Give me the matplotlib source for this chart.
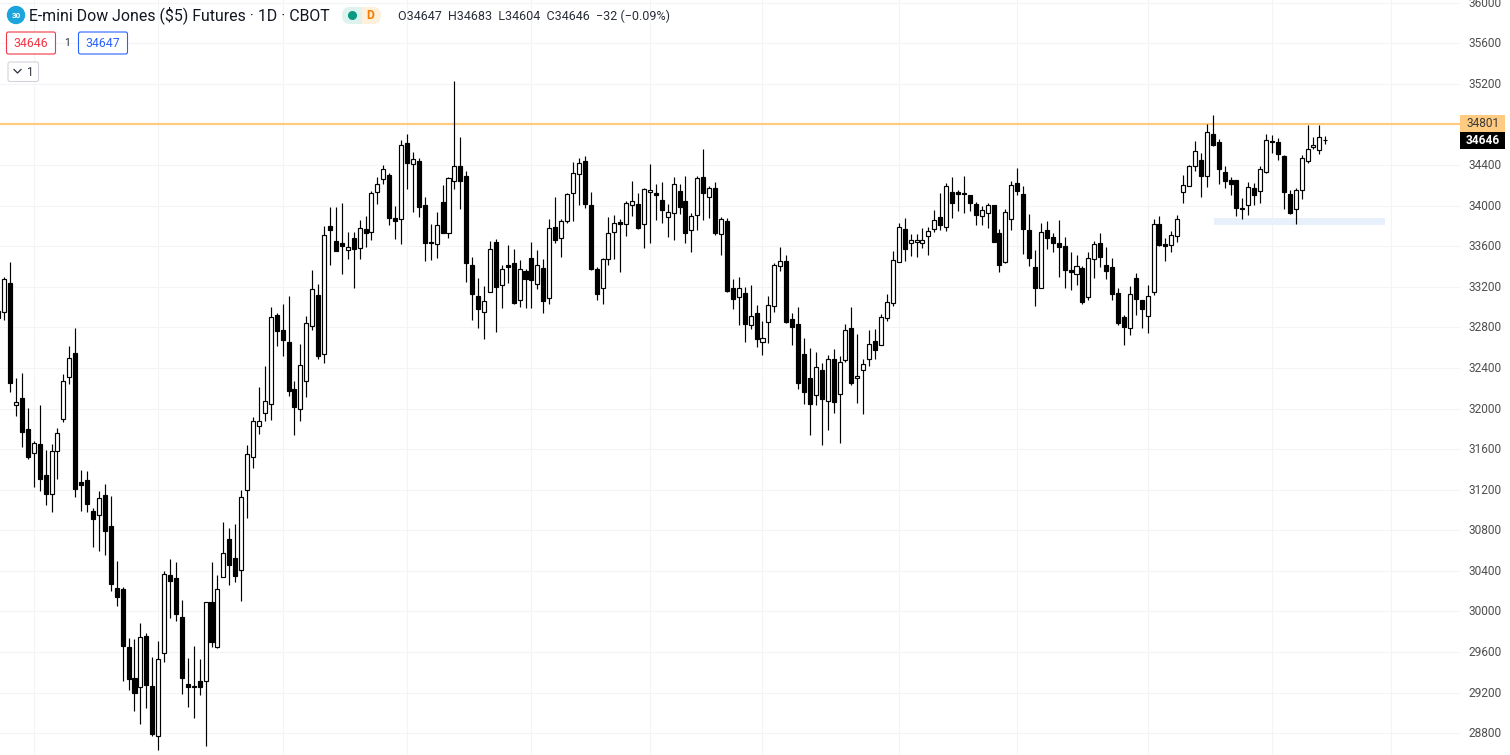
import numpy as np
import matplotlib
matplotlib.use('Agg')
import matplotlib.pyplot as plt
from matplotlib.patches import FancyBboxPatch, Circle, Rectangle
from matplotlib.transforms import ScaledTranslation

plt.rcParams['font.family'] = ['Roboto', 'DejaVu Sans']

opens = [32961,
    32954,33234,32038,32101,31795,31559,31647,31342,31155,31578,31894,32314,32544,31273,31293,
    30987,30948,31145,30840,30229,30219,29647,29342,29253,29756,29263,28771,29588,30357,30327,
    29943,29283,29267,29312,29312,30091,29654,30337,30711,30524,30406,31194,
    31522,31824,31952,32044,32918,32770,32652,32188,31991,32267,32809,33115,32533,33794,33647,33627,
    33564,33676,33578,33765,33735,34129,34257,34297,33873,33863,34612,34405,34435,34001,33637,33617,
    34031,33725,34238,34385,34287,33410,33105,32947,
    33144,33637,33213,33410,33430,33065,33351,33479,33230,33381,33085,33785,33676,33844,34120,34307,
    34435,34001,33371,33184,33469,33735,33837,33814,34001,34011,33814,34129,34120,34051,33883,33923,
    34139,34041,33755,33903,34277,34080,34169,33716,33844,
    33184,33095,33134,32819,32937,32652,32849,33006,33400,33450,32878,32829,32533,32297,32130,32376,
    32070,32484,32139,32474,32790,32297,32376,32484,32661,32622,32888,33036,33440,33765,33627,33637,
    33627,33696,33765,33883,33785,34129,34129,34120,
    34100,34011,33893,33923,34001,33726,33440,33863,34218,34110,33755,33391,33190,33755,33686,33627,
    33597,33361,33322,33381,33095,33469,33627,33410,33391,33134,32898,32790,33282,33065,32908,33144,
    33814,33617,33607,33703,34129,
    34188,34385,34445,34287,34701,34622,34326,34248,34248,33975,34001,34169,34139,34326,34632,34622,
    34484,34110,33962,34149,34435,34573,34543,34647]

closes = [32895,
    33273,32255,32068,31772,31526,31664,31309,31161,31578,31762,32268,32495,31211,31250,31063,
    30915,31115,30797,30275,30147,29664,29339,29201,29746,29280,28797,29536,30367,30304,29979,
    29349,29260,29260,29260,30091,29703,30225,30574,30462,30353,31125,31549,
    31873,31873,32070,32898,32766,32678,32175,32018,32425,32839,33174,32520,33706,33761,33555,33604,
    33587,33574,33775,33732,34119,34208,34356,33873,33850,34592,34422,34454,33981,33627,33627,33804,
    33732,34267,34385,34238,33430,33124,32977,33055,
    33568,33200,33371,33397,33042,33371,33279,33269,33410,33062,33775,33663,33844,34110,34317,34415,
    34018,33377,33131,33469,33725,33824,33821,34021,34041,33781,34159,34149,34100,33959,33932,34208,
    33988,33732,33893,34267,34120,34169,33732,33863,33161,
    33075,33184,32829,32908,32681,32691,33016,33410,33450,32855,32806,32254,32166,32047,32405,32090,
    32484,32067,32455,32770,32254,32317,32435,32632,32579,32898,33046,33459,33785,33574,33657,33657,
    33657,33745,33854,33811,34189,34028,34116,34116,
    34028,33903,33952,34001,33643,33417,33932,34198,34146,33772,33486,33190,33735,33683,33634,33594,
    33368,33348,33400,33052,33479,33617,33496,33358,33131,32845,32806,33125,33082,32977,33105,33814,
    33614,33604,33706,33863,34198,
    34385,34533,34287,34720,34599,34356,34238,34208,33972,33968,34179,34100,34356,34642,34622,34504,
    34129,33926,34149,34464,34553,34592,34671,34646]

highs = [33000,
    33293,33440,32298,32347,32002,31677,32035,31592,31647,31805,32337,32613,32790,31395,31381,
    31017,31184,31253,31135,30495,30242,29739,29730,29884,29789,29552,29707,30396,30514,30485,
    30111,29539,29657,29529,30091,30485,30357,30879,30820,30859,31194,31638,
    31919,32208,32418,32996,32937,33026,33108,32267,32632,32908,33361,33223,33794,33981,33981,34021,
    33735,33735,33853,33896,34139,34277,34395,34316,33991,34642,34701,34523,34464,34080,33814,33932,
    34198,34277,35226,34671,34336,33489,33282,33203,
    33647,33666,33410,33607,33568,33460,33371,33637,33558,33469,33863,34080,33863,34120,34425,34464,
    34484,34129,33390,33479,33883,33903,33863,34041,34238,34120,34169,34405,34208,34228,34011,34277,
    34208,34287,33923,34287,34553,34189,34228,33883,33873,
    33272,33292,33193,33213,33016,32859,33105,33430,33588,33509,32937,32996,32691,32593,32553,32445,
    32524,32583,32514,32829,32996,32730,32484,32770,32780,32927,33125,33548,33824,33873,33716,33716,
    33775,33785,33952,34120,34218,34277,34149,34287,
    34100,34031,33992,34021,34001,33765,33962,34238,34366,34189,33913,33558,33824,33844,33726,33854,
    33686,33538,33509,33400,33538,33647,33726,33588,33479,33184,32918,33203,33331,33069,33213,33863,
    33893,33676,33745,33903,34297,
    34395,34632,34514,34799,34888,34651,34385,34277,34248,34070,34228,34218,34385,34701,34691,34661,
    34494,34149,34169,34494,34793,34671,34793,34683]

lows = [32880,
    32872,32166,31930,31624,31503,31230,31191,31053,30984,31309,31871,32245,31132,30994,30984,
    30639,30600,30560,30206,30058,29319,29230,29024,28895,29053,28777,28639,29506,29940,29910,
    29191,29063,28955,29181,28679,29654,29644,30337,30265,30294,30107,30925,
    31413,31752,31880,31890,32619,32520,32126,31742,31880,32116,32776,32491,32451,33417,33555,33328,
    33476,33190,33476,33594,33663,34018,34215,33811,33673,33624,34165,33939,33890,33456,33466,33486,
    33732,33683,34165,33968,33246,32875,32796,32688,
    33144,32757,32993,33239,33033,33003,32993,32993,33180,32944,33033,33634,33496,33831,33850,34008,
    33978,33368,33072,33033,33410,33476,33348,33702,33900,33771,33584,33634,33860,33831,33693,33663,
    33919,33634,33545,33762,33860,33880,33712,33515,33151,
    32983,32826,32658,32786,32609,32530,32648,32954,33358,32845,32629,32195,32047,31742,32038,31643,
    31791,31959,31663,32455,32235,32057,31949,32422,32491,32622,32865,33013,33440,33456,33505,33496,
    33584,33515,33735,33762,33752,33880,33942,33929,
    33949,33811,33811,33781,33643,33348,33430,33762,34106,33525,33407,33013,33184,33574,33545,33299,
    33190,33171,33220,33033,33072,33289,33397,33279,33072,32819,32629,32727,32924,32796,32747,33121,
    33604,33456,33545,33643,34028,
    34188,34336,34087,34179,34589,34208,34169,34100,33893,33863,33903,34001,34021,34317,34514,34445,
    33968,33916,33814,34067,34415,34553,34504,34604]

price_ticks = list(range(28800, 36001, 400))
date_grid = [5, 26, 47, 68, 89, 109, 128, 151, 171, 193, 214, 234]
resistance = 34801
last_close = 34646
support_zone = (204.2, 233.1, 33807, 33873)

W, H = 1510, 755
fig = plt.figure(figsize=(W / 100, H / 100), dpi=100)
ax = fig.add_axes([0, 0, 1460 / W, 1])

x = np.arange(len(opens)) - 1
o, c, hi, lo = map(np.array, (opens, closes, highs, lows))
up = c > o
bottoms = np.minimum(o, c)
tops = np.maximum(o, c)

# grid
ax.set_xticks(date_grid)
ax.set_yticks(price_ticks)
ax.grid(True, color='#f3f4f6', linewidth=0.75)
ax.set_axisbelow(True)

# zone, level
ax.add_patch(Rectangle((support_zone[0], support_zone[2]), support_zone[1] - support_zone[0],
                       support_zone[3] - support_zone[2], color='#e8f0fc', lw=0, zorder=1))
ax.axhline(resistance, color='#ffcb80', lw=1.6, zorder=2)

# candles
ax.vlines(x, lo, hi, color='black', lw=0.85, zorder=3)
ax.bar(x, tops - bottoms, 0.68, bottom=bottoms, color=np.where(up, 'white', 'black'),
       edgecolor='black', lw=0.85, zorder=4)

ax.set_xlim(-0.70, 245.73)
ax.set_ylim(28586, 36025)
for s in ax.spines.values():
    s.set_visible(False)
ax.tick_params(axis='x', length=0, labelbottom=False)
ax.tick_params(axis='y', length=0, pad=5.8, labelleft=False, labelright=True,
               labelsize=8.6, labelcolor='#4f4f4f')
for lab in ax.get_yticklabels():
    lab.set_transform(lab.get_transform() + ScaledTranslation(0, 1 / 100, fig.dpi_scale_trans))

# overlay in screen pixels for the header and price tags
ov = fig.add_axes([0, 0, 1, 1])
ov.set_xlim(0, W)
ov.set_ylim(H, 0)
ov.axis('off')
ov.patch.set_alpha(0)

def box(x0, y0, x1, y1, fc, ec='none', lw=0.8, r=2):
    ov.add_patch(FancyBboxPatch((x0 + r, y0 + r), x1 - x0 - 2 * r, y1 - y0 - 2 * r,
                                boxstyle='round,pad=%d,rounding_size=%d' % (r, r),
                                fc=fc, ec=ec, lw=lw))

ov.add_patch(Circle((16, 15), 8.5, color='#1ca4dc'))
ov.text(16, 15.5, '30', color='white', fontsize=5.8, fontweight='bold', ha='center', va='center')
ov.text(29, 15.5, 'E-mini Dow Jones ($5) Futures · 1D · CBOT', color='#131722', fontsize=11.4,
        ha='left', va='center')

ov.add_patch(FancyBboxPatch((350, 7), 23, 17, boxstyle='round,pad=0,rounding_size=1', fc='#fff0dc', ec='none'))
box(342, 7, 362, 24, '#dff3ee', r=8)
ov.add_patch(Rectangle((362, 7), 7, 17, fc='#fff0dc', lw=0))
box(361, 7, 381, 24, '#fff0dc', r=8)
ov.add_patch(Rectangle((354, 7), 8, 17, fc='#dff3ee', lw=0))
ov.add_patch(Circle((352.5, 15.5), 3.8, color='#089981'))
ov.text(370.5, 15.5, 'D', color='#f57c00', fontsize=8.8, fontweight='bold', ha='center', va='center')

ov.text(398, 16, 'O34647  H34683  L34604  C34646  −32 (−0.09%)', color='#2a2e39', fontsize=9.03,
        ha='left', va='center')

box(6.5, 32, 55.5, 54, 'white', ec='#f23645')
ov.text(31, 43.5, '34646', color='#f23645', fontsize=8.8, ha='center', va='center')
ov.text(67, 43.5, '1', color='#2a2e39', fontsize=7.6, ha='center', va='center')
box(78.5, 32, 127.5, 54, 'white', ec='#2962ff')
ov.text(103, 43.5, '34647', color='#2962ff', fontsize=8.8, ha='center', va='center')

box(8, 62, 38.5, 81.5, 'white', ec='#d1d4dc')
ov.plot([14, 17.5, 21], [69.5, 73, 69.5], color='#2a2e39', lw=0.9)
ov.text(30, 72, '1', color='#2a2e39', fontsize=8.4, ha='center', va='center')

ov.add_patch(Rectangle((1460, 115), 44.5, 17, fc='#ffcb80', lw=0))
ov.text(1483, 123.5, str(resistance), color='#3a3a3a', fontsize=8.6, ha='center', va='center')
ov.add_patch(Rectangle((1460, 132), 44.5, 17, fc='black', lw=0))
ov.text(1483, 141, str(last_close), color='white', fontsize=8.6, fontweight='bold', ha='center', va='center')

fig.savefig('out.png', dpi=100)
